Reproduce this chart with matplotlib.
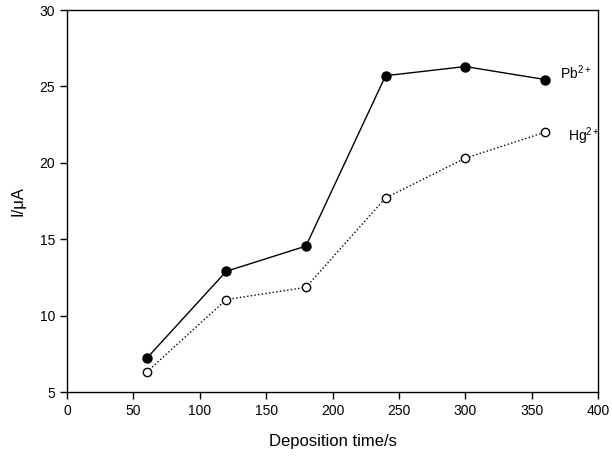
import matplotlib
matplotlib.use("Agg")
import matplotlib.pyplot as plt

plt.rcParams['font.family'] = ['Liberation Sans', 'DejaVu Sans']
plt.rcParams['mathtext.fontset'] = 'custom'
plt.rcParams['mathtext.rm'] = 'Liberation Sans'
plt.rcParams['mathtext.it'] = 'Liberation Sans:italic'
plt.rcParams['mathtext.bf'] = 'Liberation Sans:bold'

time_s = [60, 120, 180, 240, 300, 360]
pb_current = [7.2, 12.9, 14.55, 25.7, 26.3, 25.45]
hg_current = [6.3, 11.05, 11.85, 17.7, 20.3, 22.0]
x_ticks = [0, 50, 100, 150, 200, 250, 300, 350, 400]
y_ticks = [5, 10, 15, 20, 25, 30]

fig = plt.figure(figsize=(6.12, 4.58), dpi=100)
ax = fig.add_axes([67/612, 1-392/458, (598-67)/612, (392-10)/458])

ax.plot(time_s, pb_current, '-', color='black', lw=1.0, marker='o', ms=6.5,
        mfc='black', mec='black')
ax.plot(time_s, hg_current, ':', color='black', lw=1.0, marker='o', ms=6,
        mfc='white', mec='black', mew=1.0)

ax.text(371.5, 25.9, r'Pb$^{\mathrm{2+}}$', fontsize=10, va='center', ha='left')
ax.text(377.2, 21.75, r'Hg$^{\mathrm{2+}}$', fontsize=10, va='center', ha='left')

ax.set_xlim(0, 400)
ax.set_ylim(5, 30)
ax.set_xticks(x_ticks)
ax.set_yticks(y_ticks)
ax.tick_params(direction='out', length=5, width=1, labelsize=10, top=False, right=False)
for s in ax.spines.values():
    s.set_linewidth(1.0)
ax.set_xlabel('Deposition time/s', fontsize=12, labelpad=12)
ax.set_ylabel('I/μA', fontsize=12, labelpad=10)

fig.savefig('out.png', dpi=100)
